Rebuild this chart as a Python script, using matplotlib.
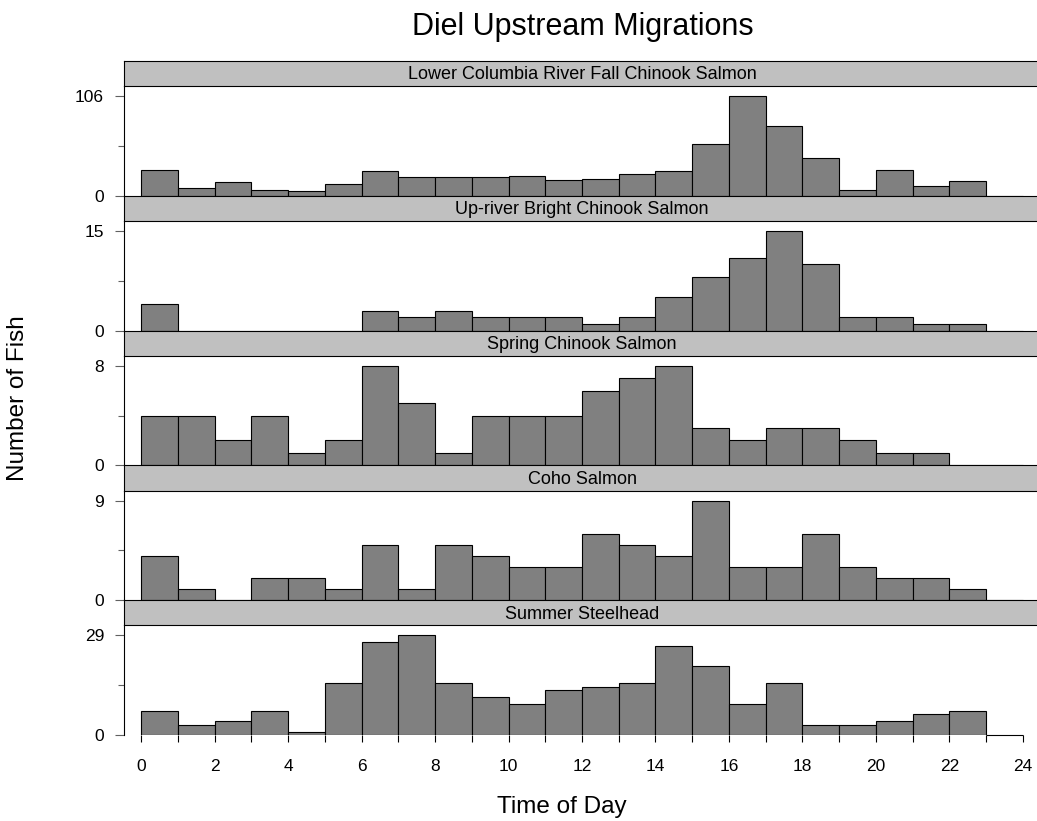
import matplotlib
matplotlib.use('Agg')
import matplotlib.pyplot as plt
from matplotlib.ticker import FixedLocator

plt.rcParams['font.family'] = ['Liberation Sans', 'DejaVu Sans']

# ---- data ----
hours = list(range(24))
species = [
    "Lower Columbia River Fall Chinook Salmon",
    "Up-river Bright Chinook Salmon",
    "Spring Chinook Salmon",
    "Coho Salmon",
    "Summer Steelhead",
]
lower_columbia_fall = [27, 8, 15, 6, 5, 13, 26, 20, 20, 20, 21, 17,
                       18, 23, 26, 55, 106, 74, 40, 6, 27, 10, 16, 0]
upriver_bright = [4, 0, 0, 0, 0, 0, 3, 2, 3, 2, 2, 2,
                  1, 2, 5, 8, 11, 15, 10, 2, 2, 1, 1, 0]
spring_chinook = [4, 4, 2, 4, 1, 2, 8, 5, 1, 4, 4, 4,
                  6, 7, 8, 3, 2, 3, 3, 2, 1, 1, 0, 0]
coho = [4, 1, 0, 2, 2, 1, 5, 1, 5, 4, 3, 3,
        6, 5, 4, 9, 3, 3, 6, 3, 2, 2, 1, 0]
summer_steelhead = [7, 3, 4, 7, 1, 15, 27, 29, 15, 11, 9, 13,
                    14, 15, 26, 20, 9, 15, 3, 3, 4, 6, 7, 0]
counts = [lower_columbia_fall, upriver_bright, spring_chinook, coho, summer_steelhead]
x_major = list(range(0, 25, 2))
x_minor = list(range(1, 25, 2))

W, H = 1037, 821
fig = plt.figure(figsize=(W / 100, H / 100), dpi=100)


def fx(px):
    return px / W


def fy(py):
    return 1 - py / H


left_px, right_px = 124, 1040
panel_step = 134.8
strip_h = 25.2

for i, (name, vals) in enumerate(zip(species, counts)):
    top = 61 + i * panel_step
    sb = top + strip_h
    pb = top + panel_step
    ax = fig.add_axes([fx(left_px), fy(pb), (right_px - left_px) / W, (pb - sb) / H])
    ymax = max(vals)
    bars = ax.bar(hours, vals, width=1, align='edge', color='#808080',
                  edgecolor='black', linewidth=0.8)
    for rect, v in zip(bars, vals):
        if v == 0:
            rect.set_clip_on(False)
    ax.set_xlim(-0.467, 24.467)
    ax.set_ylim(0, ymax * 1.1)
    for s in ['top', 'right', 'bottom']:
        ax.spines[s].set_visible(False)
    ax.spines['left'].set_linewidth(0.8)
    ax.set_yticks([0, ymax])
    ax.set_yticklabels(['0', str(ymax)])
    ax.yaxis.set_minor_locator(FixedLocator([ymax / 2]))
    ax.tick_params(axis='y', which='major', length=6.5, width=0.8,
                   color='#606060', pad=7.9, labelsize=12.5)
    ax.tick_params(axis='y', which='minor', length=4, width=0.8, color='#606060')
    if i < len(species) - 1:
        ax.set_xticks([])
    else:
        ax.set_xticks(x_major)
        ax.set_xticklabels([str(v) for v in x_major])
        ax.xaxis.set_minor_locator(FixedLocator(x_minor))
        ax.tick_params(axis='x', which='both', length=5, width=0.8,
                       color='black', pad=12, labelsize=12.5)

    sax = fig.add_axes([fx(left_px), fy(sb), (right_px - left_px) / W, strip_h / H])
    sax.set_facecolor('#c0c0c0')
    sax.set_xticks([])
    sax.set_yticks([])
    for s in sax.spines.values():
        s.set_linewidth(0.8)
        s.set_color('black')
    sax.text(0.5, 0.45, name, transform=sax.transAxes, ha='center', va='center',
             fontsize=13)

fig.text(fx(583), fy(35), 'Diel Upstream Migrations', ha='center', va='baseline',
         fontsize=22)
fig.text(fx(562), fy(813), 'Time of Day', ha='center', va='baseline', fontsize=17.5)
fig.text(fx(18), fy(398), 'Number of Fish', rotation=90, ha='center', va='center',
         fontsize=17.5)

fig.savefig('out.png', dpi=100)
